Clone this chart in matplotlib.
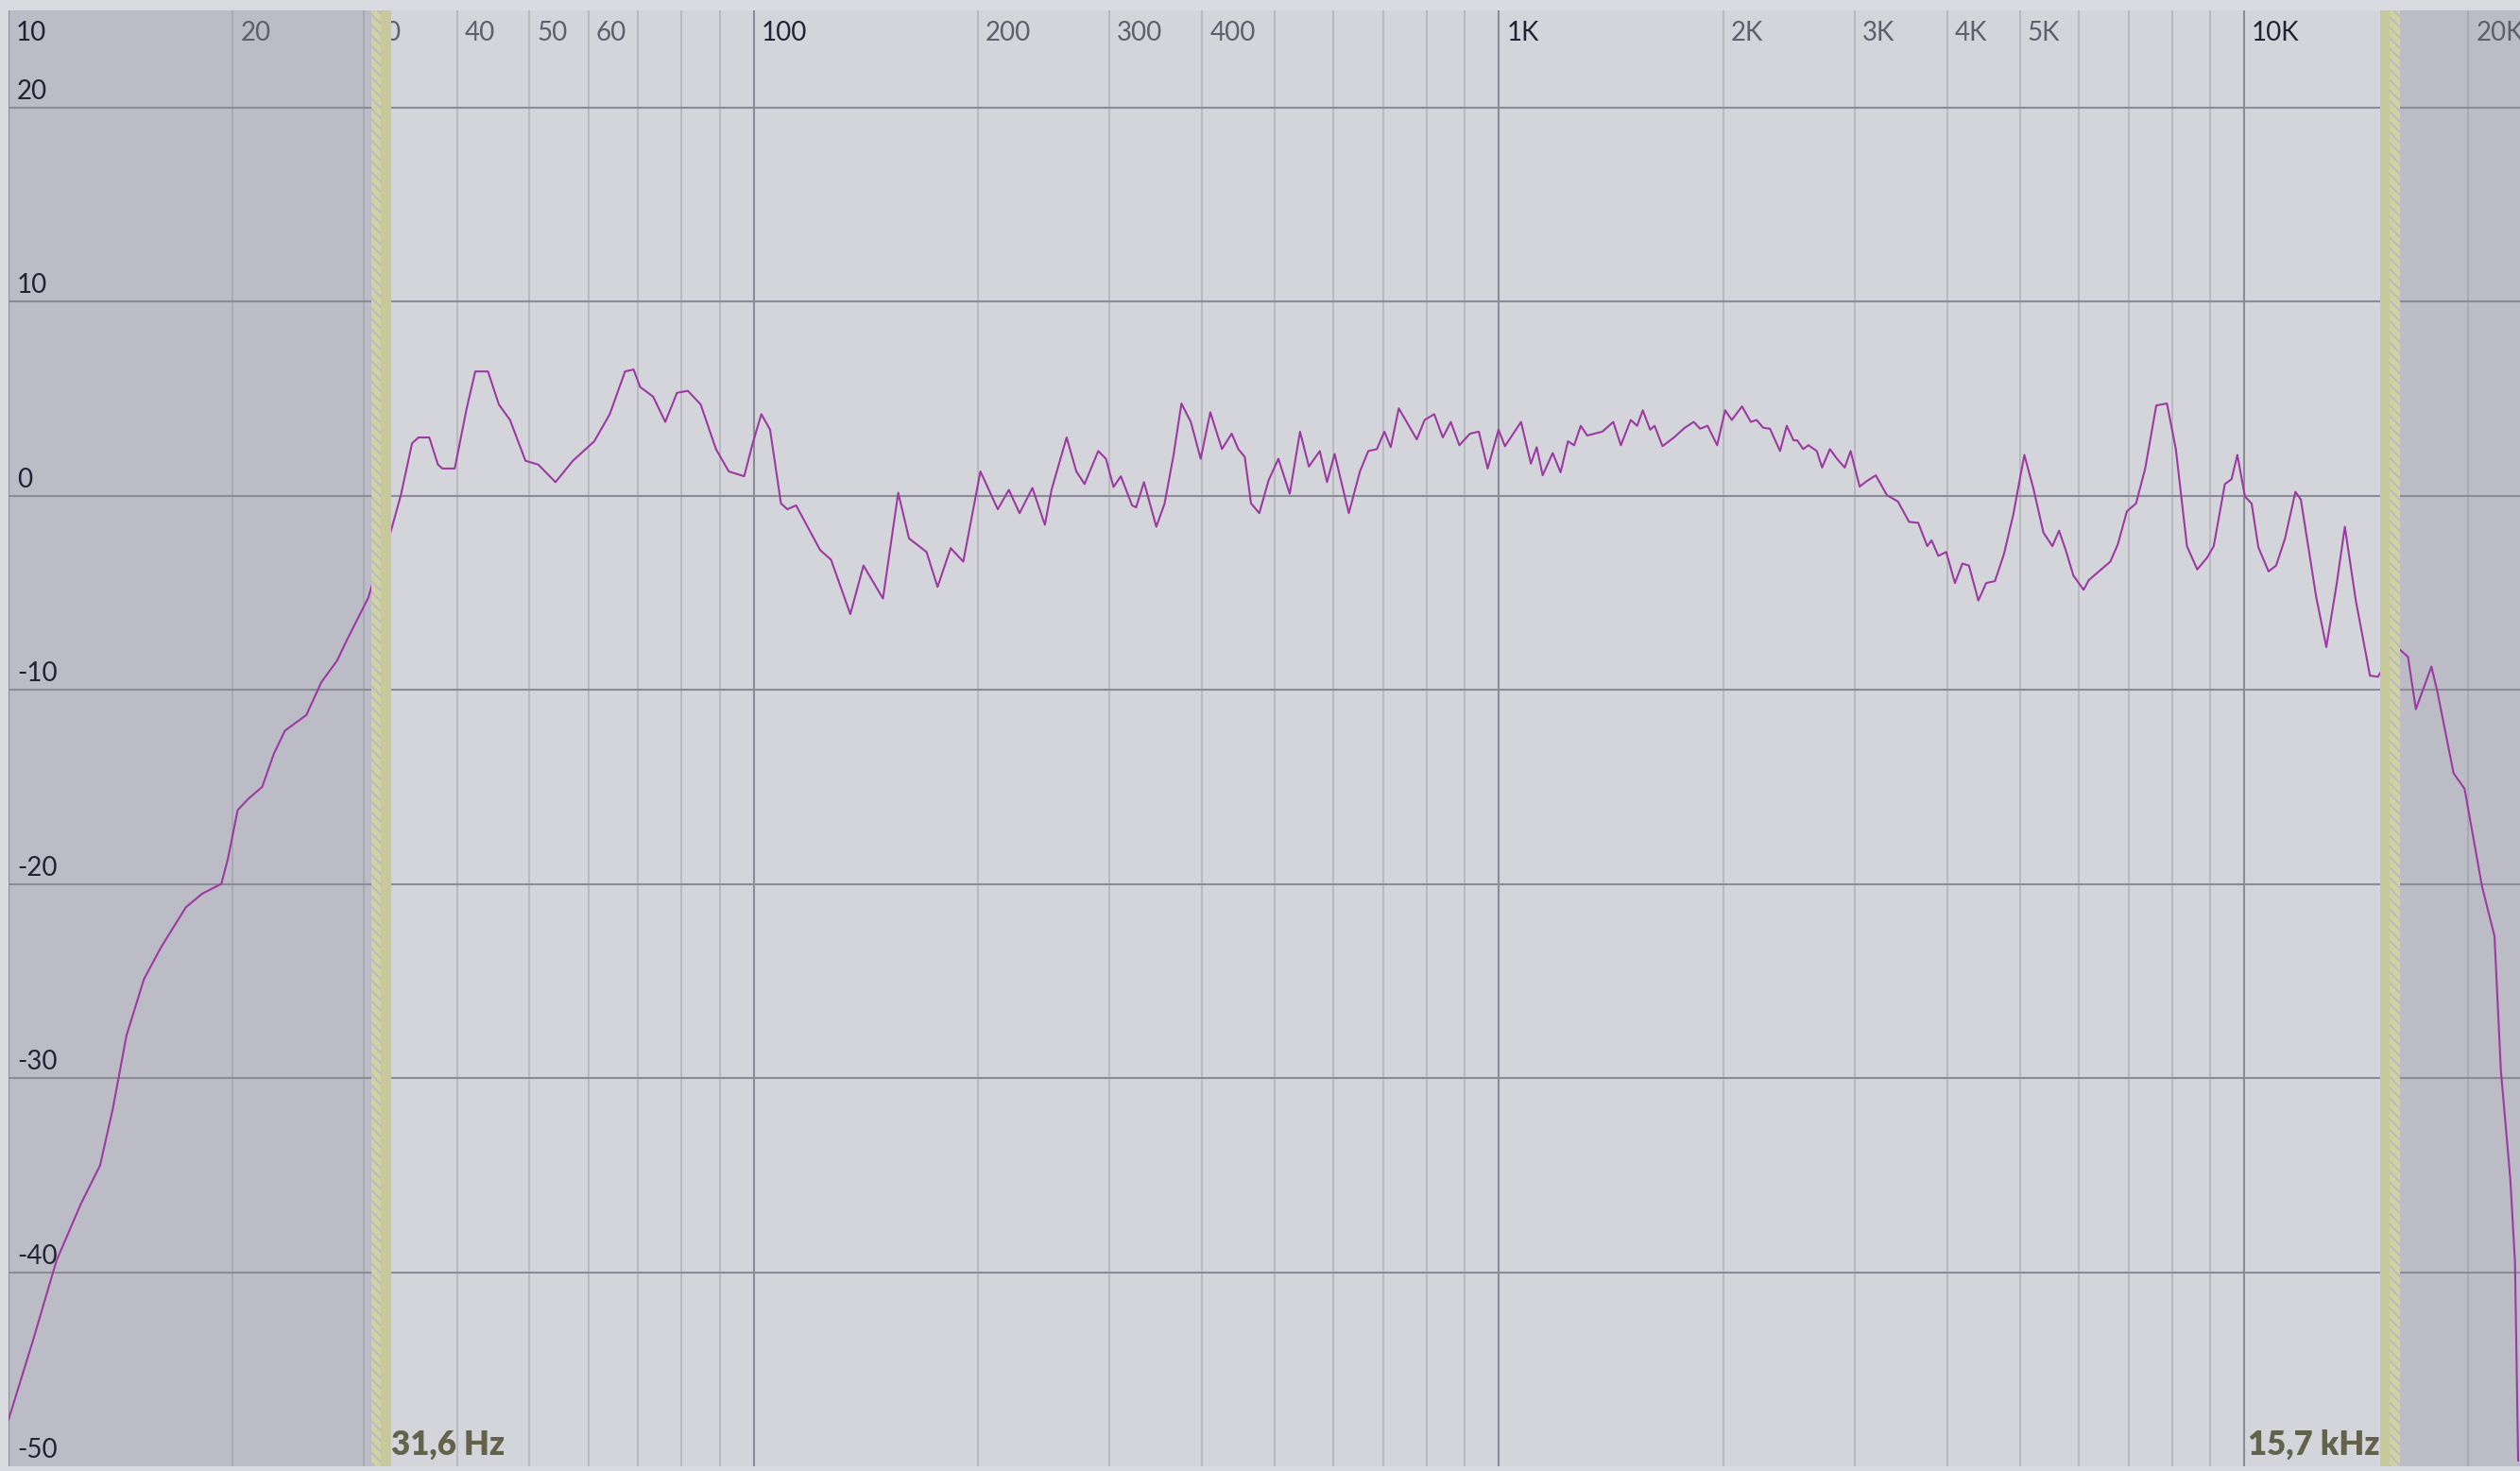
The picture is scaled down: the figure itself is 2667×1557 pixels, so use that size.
import matplotlib
matplotlib.use("Agg")
import matplotlib.pyplot as plt
from matplotlib.transforms import offset_copy

# ---------------- data ----------------
freq_hz = [10, 10.77, 11.6, 12.5, 13.27, 13.8, 14.4, 15.2, 16.0, 17.3, 18.2, 19.3, 19.7,
           20.3, 21.0, 21.9, 22.7, 23.5, 25.1, 26.3, 27.6, 28.4, 30.4, 31.1,
           32.5, 33.6, 34.8, 35.5, 36.7, 37.7, 38.2, 39.7, 41.2, 42.3, 44.0, 45.5, 47.1,
           49.4, 51.4, 54.2, 57.2, 61.1, 64.1, 67.2, 69.0, 70.4, 73.3, 76.1, 78.9, 81.6,
           84.9, 89.0, 92.6, 97.1, 99.7, 102.4, 105.2, 108.8, 111.0, 114.0, 122.8, 127.0,
           134.8, 140.4, 149.1, 156.3, 161.6, 170.6, 176.5, 183.8, 191.1, 201.5, 212.6,
           220.0, 227.4, 236.6, 245.9,
           251, 263, 271, 278, 290, 297, 304, 311, 322, 326, 334, 347, 356, 366, 375, 386,
           398, 410, 425, 438, 447, 456, 465, 477, 491, 506, 524, 541, 556, 575, 588, 602,
           629, 651, 668, 686, 702, 716, 734, 752, 776, 795, 819, 841, 862, 885, 915, 940,
           966, 999, 1019, 1071, 1104, 1124, 1145, 1181, 1210, 1238, 1262, 1288, 1314,
           1377, 1424, 1458, 1503, 1533, 1560, 1596, 1618, 1658, 1718, 1776, 1826, 1862,
           1906, 1963, 2012, 2054, 2120, 2178, 2218, 2263, 2311, 2384, 2434, 2486, 2514,
           2561, 2603, 2671, 2715, 2781, 2843, 2912, 2965, 3049, 3120, 3205, 3317, 3432,
           3552, 3654, 3758, 3808, 3888, 3984, 4093, 4188, 4274, 4400, 4508, 4632, 4763,
           4900, 5072, 5214, 5380, 5531, 5646, 5764, 5900, 6090, 6190, 6364, 6615, 6771,
           6964, 7163, 7368, 7625, 7881, 8100, 8383, 8653, 8919, 9106, 9425, 9622, 9795,
           10030, 10237, 10451, 10787, 11042, 11351, 11721, 11919, 12502, 12896, 13307,
           13655, 14125, 14757, 15122,
           15728, 16040, 16595, 17006, 17845, 18197, 19108, 19767, 20855, 21684, 22113,
           22767, 23100, 23325]
level_db = [-47.6, -43.6, -39.4, -36.5, -34.5, -31.6, -27.8, -24.9, -23.3, -21.2, -20.5, -20.0, -18.7,
            -16.2, -15.6, -15.0, -13.3, -12.1, -11.3, -9.6, -8.5, -7.5, -5.25, -3.95,
            -2.0, 0.0, 2.7, 3.0, 3.0, 1.6, 1.4, 1.4, 4.5, 6.4, 6.4, 4.7, 3.9,
            1.8, 1.6, 0.7, 1.8, 2.8, 4.2, 6.4, 6.5, 5.6, 5.1, 3.8, 5.3, 5.4,
            4.7, 2.4, 1.25, 1.0, 2.7, 4.2, 3.4, -0.4, -0.7, -0.5, -2.8, -3.3,
            -6.1, -3.6, -5.3, 0.15, -2.2, -2.9, -4.7, -2.7, -3.4, 1.25, -0.7,
            0.3, -0.9, 0.4, -1.5,
            0.3, 3.0, 1.25, 0.6, 2.3, 1.9, 0.45, 1.0, -0.5, -0.6, 0.7, -1.6, -0.4, 2.1, 4.75, 3.8,
            1.9, 4.3, 2.4, 3.2, 2.4, 2.0, -0.4, -0.9, 0.8, 1.9, 0.1, 3.3, 1.5, 2.3, 0.7, 2.15,
            -0.9, 1.25, 2.3, 2.4, 3.3, 2.5, 4.5, 3.8, 2.9, 3.9, 4.2, 3.0, 3.8, 2.6, 3.2, 3.3,
            1.4, 3.4, 2.55, 3.8, 1.65, 2.5, 1.05, 2.2, 1.2, 2.8, 2.6, 3.6, 3.1,
            3.3, 3.8, 2.6, 3.9, 3.6, 4.4, 3.4, 3.6, 2.55, 3.0, 3.5, 3.8, 3.45,
            3.6, 2.6, 4.4, 3.9, 4.6, 3.8, 3.9, 3.5, 3.45, 2.3, 3.6, 2.85, 2.85,
            2.4, 2.6, 2.3, 1.45, 2.4, 1.9, 1.45, 2.3, 0.47, 0.76, 1.05, 0.03, -0.3,
            -1.35, -1.4, -2.6, -2.3, -3.1, -2.9, -4.5, -3.5, -3.6, -5.4, -4.5, -4.4, -3.0,
            -1.0, 2.1, 0.4, -1.9, -2.6, -1.8, -2.8, -4.1, -4.85, -4.35, -3.95, -3.4, -2.5,
            -0.8, -0.4, 1.4, 4.65, 4.75, 2.4, -2.6, -3.8, -3.2, -2.6, 0.6, 0.85, 2.1,
            -0.05, -0.4, -2.65, -3.9, -3.6, -2.2, 0.2, -0.2, -5.25, -7.8, -4.6,
            -1.6, -5.4, -9.27, -9.33,
            -8.3, -7.8, -8.3, -11.0, -8.8, -10.2, -14.3, -15.1, -20.1, -22.7, -29.6,
            -35.2, -39.5, -49.7]

grid_db = [20, 10, 0, -10, -20, -30, -40]
db_label_values = [20, 10, 0, -10, -20, -30, -40, -50]
db_labels = ["20", "10", "0", "-10", "-20", "-30", "-40", "-50"]
freq_ticks = [10, 20, 30, 40, 50, 60, 100, 200, 300, 400, 1000, 2000, 3000, 4000, 5000, 10000, 20000]
freq_tick_labels = ["10", "20", "30", "40", "50", "60", "100", "200", "300", "400",
                    "1K", "2K", "3K", "4K", "5K", "10K", "20K"]
decade_lines = [10, 100, 1000, 10000]
minor_lines = [20, 30, 40, 50, 60, 70, 80, 90, 200, 300, 400, 500, 600, 700, 800, 900,
               2000, 3000, 4000, 5000, 6000, 7000, 8000, 9000, 20000]
low_cut = 31.6
high_cut = 15700
low_cut_label = "31,6 Hz"
high_cut_label = "15,7 kHz"

# ---------------- style ----------------
W, H = 2667, 1557
DPI = 100
PX_PER_DEC = 788.67
band_dec = 10.5 / PX_PER_DEC
plt.rcParams['font.family'] = ['Lato', 'DejaVu Sans']
plt.rcParams['hatch.linewidth'] = 1.3

fig = plt.figure(figsize=(W / DPI, H / DPI), dpi=DPI, facecolor='#dadbe0')
ax = fig.add_axes([9 / W, 5 / H, 1 - 9 / W, 1541 / H])
ax.set_xscale('log')
ax.set_xlim(10, 23460)
ax.set_ylim(-50, 25)
ax.set_facecolor('#d4d5da')
for s in ax.spines.values():
    s.set_visible(False)
ax.set_xticks([])
ax.set_xticks([], minor=True)
ax.set_yticks([])

# out-of-band shading
ax.axvspan(10, low_cut, color='#bbbcc6', lw=0, zorder=0.5)
ax.axvspan(high_cut, 23460, color='#bbbcc6', lw=0, zorder=0.5)

# grid
for f in minor_lines:
    ax.axvline(f, color='#80828c', alpha=0.36, lw=1.3, zorder=1)
for f in decade_lines:
    ax.axvline(f, color='#8a8d97', lw=1.5, zorder=1.1)
for d in grid_db:
    ax.axhline(d, color='#8a8d97', lw=1.5, zorder=1.2)

# response curve
ax.plot(freq_hz, level_db, color='#9c3aa2', lw=1.5, zorder=2, solid_joinstyle='round')

# frequency labels (top)
xt = offset_copy(ax.get_xaxis_transform(), fig=fig, x=8, y=-32, units='dots')
for f, lab in zip(freq_ticks, freq_tick_labels):
    col = '#1e2436' if f in decade_lines else '#5d606c'
    ax.text(f, 1, lab, transform=xt, ha='left', va='baseline', fontsize=20,
            color=col, zorder=3, clip_on=False)

# level labels (left)
yt = offset_copy(ax.get_yaxis_transform(), fig=fig, x=9, y=9, units='dots')
for v, lab in zip(db_label_values, db_labels):
    ax.text(0, v, lab, transform=yt, ha='left', va='baseline', fontsize=20,
            color='#1e2436', zorder=3)

# filter bands: solid on pass side, hatched on stop side
ax.axvspan(low_cut, low_cut * 10 ** band_dec, color='#c7c99b', lw=0, zorder=4)
ax.axvspan(low_cut * 10 ** (-band_dec), low_cut, facecolor='#d0d2a3', edgecolor='#b9bac3',
           hatch='\\' * 3, lw=0, zorder=4)
ax.axvspan(high_cut * 10 ** (-band_dec), high_cut, color='#c7c99b', lw=0, zorder=4)
ax.axvspan(high_cut, high_cut * 10 ** band_dec, facecolor='#d0d2a3', edgecolor='#b9bac3',
           hatch='\\' * 3, lw=0, zorder=4)

bt = offset_copy(ax.get_xaxis_transform(), fig=fig, x=0, y=12, units='dots')
ax.text(low_cut * 10 ** band_dec, 0, low_cut_label, transform=bt, ha='left', va='baseline',
        fontsize=25, fontweight='heavy', color='#63634c', zorder=5)
ax.text(high_cut * 10 ** (-band_dec), 0, high_cut_label, transform=bt, ha='right', va='baseline',
        fontsize=25, fontweight='heavy', color='#63634c', zorder=5)

fig.savefig('out.png', dpi=DPI, facecolor=fig.get_facecolor())
